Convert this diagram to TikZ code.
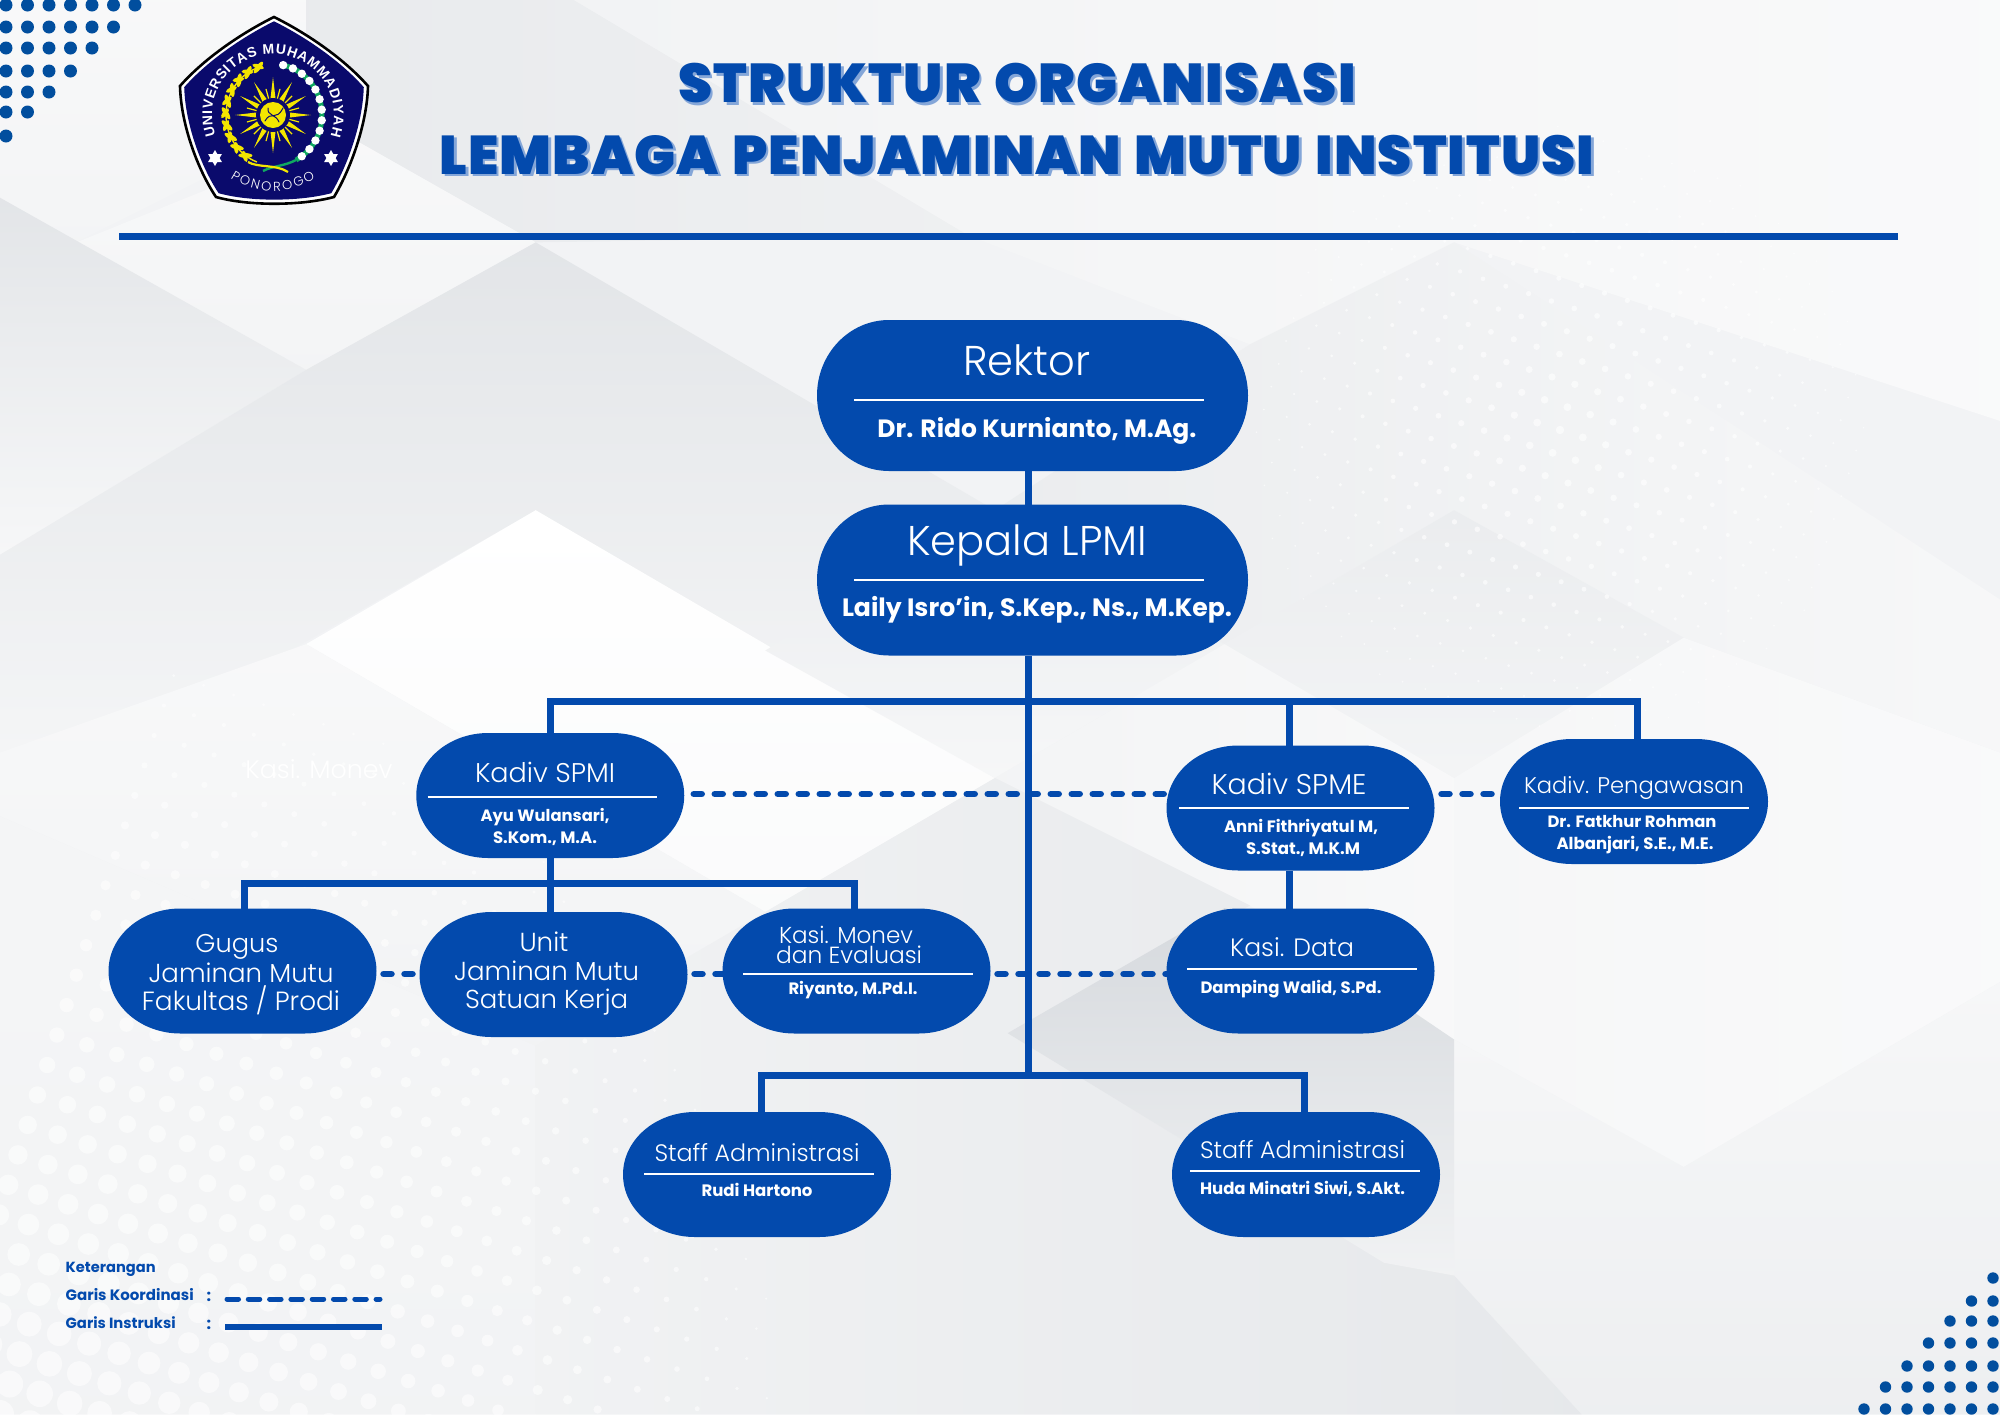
\documentclass[tikz,border=0pt]{standalone}
\usepackage{fontspec}
\usepackage{graphicx}
\usetikzlibrary{decorations.text,calc}
\newfontfamily\pl{Poppins Light}
\newfontfamily\ps{Poppins Bold}
\newfontfamily\pb{Poppins Black}[LetterSpace=2,WordSpace=1.3]
\newfontfamily\lgf{Liberation Sans Bold}
\definecolor{box}{HTML}{034AAD}
\definecolor{dotc}{HTML}{014E9E}
\definecolor{shadowc}{HTML}{84A6D8}
\definecolor{navy}{HTML}{0A0A6C}
\definecolor{sun}{HTML}{F4E600}
\definecolor{leafg}{HTML}{10A860}
\definecolor{gb}{HTML}{C4C9CF}
\newcommand{\fw}[2]{\resizebox{#1pt}{!}{#2}}
\newcommand{\logoshape}{(274,17) .. controls (310,35) and (345,60) .. (368,86) .. controls (367,125) and (350,170) .. (334,197) .. controls (300,206) and (248,206) .. (216,197) .. controls (198,170) and (181,125) .. (180,86) .. controls (203,60) and (238,35) .. (274,17) -- cycle}
\newcommand{\sixstar}[2]{\fill[white] ({#1},{#2-8}) -- ({#1+6.9},{#2+4}) -- ({#1-6.9},{#2+4}) -- cycle; \fill[white] ({#1},{#2+8}) -- ({#1+6.9},{#2-4}) -- ({#1-6.9},{#2-4}) -- cycle;}
\newcommand{\pillfill}[1]{\fill[box] let \p1=(#1.west),\p2=(#1.north),\p3=(#1.east),\p4=(#1.south) in
 (\x1,\y1) .. controls (\x1,{\y1+0.5523*(\y2-\y1)}) and ({\x1+32.2pt},\y2) .. ({\x1+72pt},\y2) -- ({\x3-72pt},\y2) .. controls ({\x3-32.2pt},\y2) and (\x3,{\y1+0.5523*(\y2-\y1)}) .. (\x3,\y1) .. controls (\x3,{\y1+0.5523*(\y4-\y1)}) and ({\x3-32.2pt},\y4) .. ({\x3-72pt},\y4) -- ({\x1+72pt},\y4) .. controls ({\x1+32.2pt},\y4) and (\x1,{\y1+0.5523*(\y4-\y1)}) .. (\x1,\y1) -- cycle;}
\pgfdeclarelayer{bglayer}
\pgfdeclarelayer{connlayer}
\pgfsetlayers{bglayer,connlayer,main}
\tikzset{
  pill/.style={inner sep=0,outer sep=0,minimum width=268pt,minimum height=125pt},
  bigpill/.style={pill,minimum width=431pt,minimum height=151pt},
  txt/.style={text=white,anchor=base,inner sep=0,outer sep=0,font=\fontsize{20pt}{24pt}\selectfont},
  rulew/.style={draw=white,line width=1.5pt},
  instr/.style={draw=box,line width=7pt},
  coordl/.style={draw=box,line width=6.5pt,line cap=round,dash pattern=on 8pt off 13pt},
  legtxt/.style={text=box,anchor=base west,inner sep=0,outer sep=0,font=\fontsize{20pt}{24pt}\selectfont}
}
\begin{document}
\begin{tikzpicture}[x=1pt,y=-1pt]
\useasboundingbox (0,0) rectangle (2000,1414);
% ---------- background ----------
\begin{pgfonlayer}{bglayer}
\clip (0,0) rectangle (2000,1414);
\fill[white!78!gb] (0,0) rectangle (2000,1414);
\begin{scope}[x=1.2755pt,y=-1.2755pt]
\shade[top color=white!88!gb,bottom color=white!80!gb] (0,0) -- (240,0) -- (240,100) -- (60,190) -- (0,155) -- cycle;
\shade[left color=white!62!gb,right color=white!72!gb] (240,0) -- (450,0) -- (760,185) -- (420,190) -- (270,105) -- (240,100) -- cycle;
\shade[left color=white!78!gb,right color=white!90!gb] (450,0) -- (1568,0) -- (1568,330) -- (1140,190) -- (980,270) -- (760,185) -- cycle;
\shade[top color=white!88!gb,bottom color=white!80!gb] (270,105) -- (420,190) -- (240,290) -- (60,190) -- cycle;
\shade[top color=white!52!gb,bottom color=white!85!gb] (0,155) -- (240,290) -- (0,435) -- cycle;
\shade[top color=white!52!gb,bottom color=white!85!gb] (420,190) -- (780,400) -- (600,510) -- (420,400) -- (0,640) -- (0,435) -- (240,290) -- cycle;
\shade[top color=white,bottom color=white!92!gb] (420,400) -- (780,610) -- (600,715) -- (240,505) -- cycle;
\shade[top color=white!88!gb,bottom color=white!78!gb] (240,505) -- (600,715) -- (420,820) -- (0,640) -- (0,590) -- cycle;
\shade[top color=white!66!gb,bottom color=white!85!gb] (600,510) -- (780,400) -- (960,505) -- (780,610) -- cycle;
\shade[left color=white!66!gb,right color=white!86!gb] (980,270) -- (1140,190) -- (1568,470) -- (1568,590) -- (1320,500) -- (1140,400) -- (960,505) -- (780,400) -- cycle;
\shade[top color=white!66!gb,bottom color=white!80!gb] (960,505) -- (1140,400) -- (1320,500) -- (1140,610) -- cycle;
\shade[left color=white!85!gb,right color=white!90!gb] (1320,500) -- (1568,590) -- (1568,770) -- (1320,915) -- (1140,815) -- (1140,610) -- cycle;
\shade[left color=white!80!gb,right color=white!88!gb] (780,610) -- (960,505) -- (1140,610) -- (1140,815) -- (980,710) -- cycle;
\shade[top color=white!85!gb,bottom color=white!70!gb] (1140,815) -- (1320,915) -- (1568,770) -- (1568,1109) -- (1240,1109) -- (1140,1000) -- cycle;
\shade[top color=white!82!gb,bottom color=white!78!gb] (0,640) -- (420,820) -- (420,1109) -- (0,1109) -- cycle;
\shade[left color=white!76!gb,right color=white!58!gb] (600,715) -- (780,610) -- (980,710) -- (790,810) -- (1140,1000) -- (1240,1109) -- (420,1109) -- (420,820) -- cycle;
\shade[top color=white!30!gb,bottom color=white!76!gb] (960,712) -- (790,810) -- (1085,990) -- (1140,1000) -- (1140,815) -- (1000,720) -- cycle;
\end{scope}
% halftone dots, lower left
\foreach \i in {-2,...,30}{\foreach \j in {-2,...,34}{
  \pgfmathsetmacro{\px}{31.5*(\i*0.951+\j*0.309)}
  \pgfmathsetmacro{\py}{1414+31.5*(\i*0.309-\j*0.951)}
  \pgfmathsetmacro{\rr}{14-1.65*sqrt((\px/100)*(\px/100)+((\py-1414)/100)*((\py-1414)/100))}
  \pgfmathparse{(\rr>1.2)&&(\px>-20)&&(\py<1440)?1:0}
  \ifnum\pgfmathresult=1 \fill[white,fill opacity=.55] (\px,\py) circle (\rr); \fi
}}
% halftone dots, upper right
\foreach \i in {-14,...,14}{\foreach \j in {-12,...,12}{
  \pgfmathsetmacro{\px}{1560+24*(\i*0.951+\j*0.309)}
  \pgfmathsetmacro{\py}{430+24*(\i*0.309-\j*0.951)}
  \pgfmathsetmacro{\rr}{4.2-1.1*sqrt(((\px-1560)/100)*((\px-1560)/100)+((\py-430)/100)*((\py-430)/100))}
  \pgfmathparse{(\rr>0.8)?1:0}
  \ifnum\pgfmathresult=1 \fill[white,fill opacity=.6] (\px,\py) circle (\rr); \fi
}}
% corner dots
\foreach \yy/\n in {5/7,27/6,48/5,71/4,92/3,112/2,136/1}{
  \foreach \c in {1,...,\n}{\fill[dotc] ({6+21.5*(\c-1)},\yy) circle (6.5);}}
\foreach \yy/\n in {1278/1,1301/2,1321/3,1343/4,1366/5,1387/6,1409/7}{
  \foreach \c in {1,...,\n}{\fill[dotc] ({1993-21.5*(\c-1)},\yy) circle (5.7);}}
\end{pgfonlayer}
% ---------- logo ----------
\fill[white] \logoshape;
\draw[black,line width=2.6pt] \logoshape;
\begin{scope}[shift={(274,112)},scale=0.955,shift={(-274,-112)}]
\fill[navy] \logoshape;
\end{scope}
\fill[sun] plot[samples at={0,1,...,24}] ({273+ifthenelse(mod(\x,2)==0,38,12)*cos(\x*15)},{115-ifthenelse(mod(\x,2)==0,38,12)*sin(\x*15)}) -- cycle;
\foreach \a in {15,45,...,345}{\draw[sun,line width=1.2pt] ({273+14*cos(\a)},{115-14*sin(\a)}) -- ({273+27*cos(\a)},{115-27*sin(\a)});}
\fill[navy] (273,115) circle (17);
\fill[sun] (273,115) circle (13);
\draw[navy,line width=1pt,line cap=round] (265,121) .. controls (271,110) and (276,122) .. (283,108);
\draw[navy,line width=1pt,line cap=round] (268,108) .. controls (267,116) and (276,114) .. (279,122);
% left wreath
\draw[sun,line width=1.4pt] plot[domain=105:250,samples=30] ({273+47*cos(\x)},{115-50*sin(\x)});
\foreach \a in {108,122,...,245}{
  \fill[sun,shift={({273+47*cos(\a)},{115-50*sin(\a)})},rotate=\a+125] (0,0) ellipse (7 and 2.4);
  \fill[sun,shift={({273+48*cos(\a)},{115-51*sin(\a)})},rotate=\a+55] (0,0) ellipse (6 and 2.2);
}
% right wreath
\draw[leafg,line width=5pt] plot[domain=82:-62,samples=30] ({273+49*cos(\x)},{115-51*sin(\x)});
\foreach \a in {78,66,...,-60}{
  \fill[white] ({273+49*cos(\a)},{115-51*sin(\a)}) circle (4.2);
}
\draw[leafg,line width=2.4pt] (263,171) .. controls (272,166) and (285,166) .. (296,160);
\draw[sun,line width=2.2pt] (248,162) .. controls (258,168) and (276,164) .. (288,172);
\sixstar{215}{158}
\sixstar{331}{158}
\path[decorate,decoration={text along path,text align={fit to path},text={|\fontsize{14pt}{15pt}\lgf\color{white}|UNIVERSITAS MUHAMMADIYAH}}]
  plot[domain=200:-20,samples=60] ({273+61*cos(\x)},{115-61*sin(\x)});
\path[decorate,decoration={text along path,text align={fit to path},text={|\fontsize{13pt}{14pt}\pl\color{white}|PONOROGO}}]
  plot[domain=236:304,samples=30] ({273+76*cos(\x)},{115-76*sin(\x)});
% ---------- title ----------
\node[text=shadowc,anchor=base,inner sep=0] (ts1) at (1019.5,105) {\fw{677}{\pb STRUKTUR ORGANISASI}};
\node[text=box,anchor=base,inner sep=0] (t1) at (1017,102) {\fw{677}{\pb STRUKTUR ORGANISASI}};
\node[text=shadowc,anchor=base,inner sep=0] (ts2) at (1019.5,176.5) {\fw{1154}{\pb LEMBAGA PENJAMINAN MUTU INSTITUSI}};
\node[text=box,anchor=base,inner sep=0] (t2) at (1017,174) {\fw{1154}{\pb LEMBAGA PENJAMINAN MUTU INSTITUSI}};
\fill[box] (119,233) rectangle (1898,240);
% ---------- ghost text ----------
\node[anchor=base,text=white,inner sep=0] (ghost) at (319,778) {\fw{147}{\pl Kasi. Monev}};
% ---------- node boxes ----------
\coordinate (tx) at (1028,0);
\coordinate (sx) at (550,0);
\coordinate (ex) at (1289,0);
\coordinate (gx) at (244,0);
\coordinate (mx) at (854,0);
\coordinate (lx) at (761,0);
\coordinate (rx) at (1304,0);
\coordinate (px) at (1637,0);
\coordinate (yu) at (0,794);
\coordinate (yl) at (0,974);
\coordinate (yt) at (0,701);
\coordinate (ys) at (0,883);
\coordinate (yb) at (0,1075);
\node[bigpill] (rektor) at (1032.5,395.5) {};
\node[bigpill] (kepala) at (1032.5,580) {};
\node[pill] (spmi) at (550.25,795.5) {};
\node[pill] (spme) at (1300.5,808) {};
\node[pill] (peng) at (1634,801.5) {};
\node[pill] (gugus) at (242.5,971) {};
\node[pill] (unit) at (553.5,974.5) {};
\node[pill] (kasim) at (856.5,971) {};
\node[pill] (kasid) at (1300.5,971) {};
\node[pill] (staffl) at (757,1174.5) {};
\node[pill] (staffr) at (1306,1174.5) {};
\foreach \nm in {rektor,kepala,spmi,spme,peng,gugus,unit,kasim,kasid,staffl,staffr}{\pillfill{\nm}}
% ---------- connectors ----------
\begin{pgfonlayer}{connlayer}
\draw[coordl,dash phase=11.5pt] (spmi.east |- yu) -- (spme.west |- yu);
\draw[coordl,dash phase=14pt] (spme.east |- yu) -- (peng.west |- yu);
\draw[coordl,dash phase=14pt] (gugus.east |- yl) -- (unit.west |- yl);
\draw[coordl,dash phase=14pt] (unit.east |- yl) -- (kasim.west |- yl);
\draw[coordl,dash phase=14pt] (kasim.east |- yl) -- (kasid.west |- yl);
\draw[instr] (rektor.south -| tx) -- (kepala.north -| tx);
\draw[instr] (kepala.south -| tx) -- (tx |- yb);
\draw[instr,line join=miter] (spmi.north -| sx) -- (sx |- yt) -- (px |- yt) -- (peng.north -| px);
\draw[instr] (spme.north -| ex) -- (ex |- yt);
\draw[instr] (spme.south -| ex) -- (kasid.north -| ex);
\draw[instr] (spmi.south -| sx) -- (unit.north -| sx);
\draw[instr,line join=miter] (gugus.north -| gx) -- (gx |- ys) -- (mx |- ys) -- (kasim.north -| mx);
\draw[instr,line join=miter] (staffl.north -| lx) -- (lx |- yb) -- (rx |- yb) -- (staffr.north -| rx);
\end{pgfonlayer}
% ---------- rules ----------
\draw[rulew] (854,400) -- (1204,400);
\draw[rulew] (854,580) -- (1204,580);
\draw[rulew] (427.5,797) -- (657,797);
\draw[rulew] (1179,808) -- (1409,808);
\draw[rulew] (1519,808) -- (1749,808);
\draw[rulew] (743,974) -- (973,974);
\draw[rulew] (1187,969) -- (1417,969);
\draw[rulew] (644,1174) -- (874,1174);
\draw[rulew] (1190,1171) -- (1420,1171);
% ---------- texts ----------
\node[txt] (a1) at (1027,375) {\fw{127}{\pl Rektor}};
\node[txt] (a2) at (1037,437) {\fw{319}{\ps Dr. Rido Kurnianto, M.Ag.}};
\node[txt] (b1) at (1027,555) {\fw{240}{\pl Kepala LPMI}};
\node[txt] (b2) at (1037,616) {\fw{390}{\ps Laily Isro’in, S.Kep., Ns., M.Kep.}};
\node[txt] (c1) at (545,782) {\fw{140}{\pl Kadiv SPMI}};
\node[txt] (c2) at (545,821) {\fw{129}{\ps Ayu Wulansari,}};
\node[txt] (c3) at (545,843) {\fw{104}{\ps S.Kom., M.A.}};
\node[txt] (d1) at (1289,794) {\fw{155}{\pl Kadiv SPME}};
\node[txt] (d2) at (1301,832) {\fw{154}{\ps Anni Fithriyatul M,}};
\node[txt] (d3) at (1303,854) {\fw{114}{\ps S.Stat., M.K.M}};
\node[txt] (e1) at (1634,793) {\fw{220}{\pl Kadiv. Pengawasan}};
\node[txt] (e2) at (1632,827) {\fw{169}{\ps Dr. Fatkhur Rohman}};
\node[txt] (e3) at (1635,849) {\fw{157}{\ps Albanjari, S.E., M.E.}};
\node[txt] (f1) at (237,952) {\fw{83}{\pl Gugus}};
\node[txt] (f2) at (241,982) {\fw{185}{\pl Jaminan Mutu}};
\node[txt] (f3) at (241,1010) {\fw{198}{\pl Fakultas / Prodi}};
\node[txt] (g1) at (544,951) {\fw{49}{\pl Unit}};
\node[txt] (g2) at (546.6,980) {\fw{185}{\pl Jaminan Mutu}};
\node[txt] (g3) at (546.6,1008) {\fw{163}{\pl Satuan Kerja}};
\node[txt] (h1) at (846,943) {\fw{134}{\pl Kasi. Monev}};
\node[txt] (h2) at (849,963) {\fw{146}{\pl dan Evaluasi}};
\node[txt] (h3) at (853,994) {\fw{129}{\ps Riyanto, M.Pd.I.}};
\node[txt] (i1) at (1292,956) {\fw{124}{\pl Kasi. Data}};
\node[txt] (i2) at (1291,993) {\fw{181}{\ps Damping Walid, S.Pd.}};
\node[txt] (j1) at (757,1161) {\fw{205}{\pl Staff Administrasi}};
\node[txt] (j2) at (757,1196) {\fw{111}{\ps Rudi Hartono}};
\node[txt] (k1) at (1302.5,1158) {\fw{205}{\pl Staff Administrasi}};
\node[txt] (k2) at (1302.5,1194) {\fw{205}{\ps Huda Minatri Siwi, S.Akt.}};
% ---------- legend ----------
\node[legtxt] (l0) at (65.7,1272) {\fw{90}{\ps Keterangan}};
\node[legtxt] (l1) at (65.7,1300) {\fw{128}{\ps Garis Koordinasi}};
\node[legtxt] (l2) at (65.7,1328) {\fw{110}{\ps Garis Instruksi}};
\node[legtxt,font=\fontsize{16pt}{18pt}\selectfont] (c1l) at (206.5,1301) {\ps :};
\node[legtxt,font=\fontsize{16pt}{18pt}\selectfont] (c2l) at (206.5,1329) {\ps :};
\coordinate (la) at (227,1299);
\coordinate (lb) at (380,1299);
\coordinate (lc) at (225,1327);
\coordinate (ld) at (382,1327);
\draw[draw=box,line width=5pt,line cap=round,dash pattern=on 11.5pt off 9.8pt] (la) -- (lb);
\draw[draw=box,line width=5.3pt] (lc) -- (ld);
\end{tikzpicture}
\end{document}
